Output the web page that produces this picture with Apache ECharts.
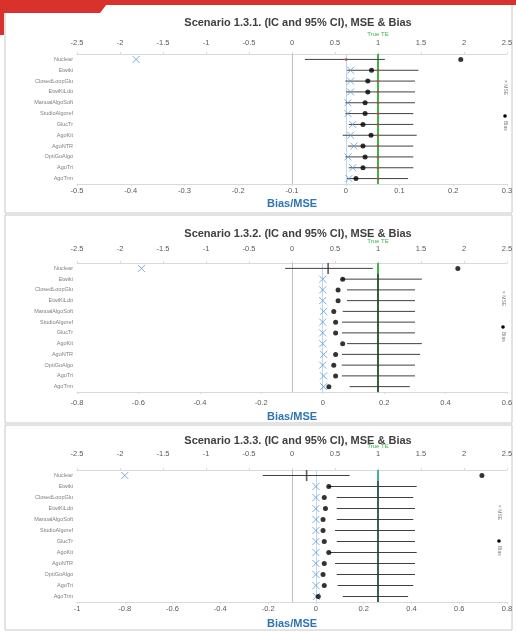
<!DOCTYPE html>
<html><head><meta charset="utf-8">
<script src="https://cdn.jsdelivr.net/npm/echarts@6/dist/echarts.min.js"></script>
<style>html,body{margin:0;padding:0;background:#fff}#c{width:516px;height:632px}</style>
</head><body><div id="c"></div>
<script>
const categories = ["Nuclear","Etwiki","ClosedLoopGlu","EtwiKiLdo","ManualAlgoSoft","StudioAlgoref","GlucTr","AgoKit","AgoNTR","OptiGoAlgo","AgoTri","AgoTrm"];
const titles = ["Scenario 1.3.1. (IC and 95% CI), MSE & Bias","Scenario 1.3.2. (IC and 95% CI), MSE & Bias","Scenario 1.3.3. (IC and 95% CI), MSE & Bias"];
const trueTE = [1, 1, 1];
// Panel 1
const p1Lower = [0.15,0.64,0.62,0.63,0.62,0.62,0.66,0.59,0.65,0.62,0.66,0.64];
const p1Upper = [1.08,1.47,1.43,1.43,1.43,1.41,1.41,1.45,1.41,1.41,1.41,1.35];
const p1Est   = [0.63,1.0,1.0,1.0,1.0,1.0,1.0,1.0,1.0,1.0,1.0,1.0];
const p1Bias  = [0.214,0.048,0.041,0.041,0.036,0.036,0.032,0.047,0.032,0.036,0.032,0.019];
const p1Mse   = [-0.39,0.009,0.009,0.009,0.004,0.004,0.013,0.009,0.015,0.004,0.013,0.006];
// Panel 2
const p2Lower = [-0.08,0.58,0.64,0.64,0.59,0.58,0.58,0.64,0.58,0.58,0.58,0.67];
const p2Upper = [0.94,1.51,1.43,1.43,1.43,1.43,1.43,1.51,1.49,1.43,1.43,1.37];
const p2Est   = [0.42,1.0,1.0,1.0,1.0,1.0,1.0,1.0,1.0,1.0,1.0,1.0];
const p2Bias  = [0.44,0.065,0.05,0.05,0.036,0.042,0.042,0.065,0.042,0.036,0.042,0.02];
const p2Mse   = [-0.59,0,0,0,0.003,0,0,0,0.003,0,0.003,0.003];
// Panel 3
const p3Lower = [-0.34,0.42,0.52,0.52,0.52,0.50,0.52,0.44,0.50,0.52,0.53,0.59];
const p3Upper = [0.67,1.45,1.41,1.43,1.41,1.43,1.43,1.45,1.43,1.43,1.41,1.35];
const p3Est   = [0.17,1.0,1.0,1.0,1.0,1.0,1.0,1.0,1.0,1.0,1.0,1.0];
const p3Bias  = [0.695,0.054,0.035,0.04,0.03,0.03,0.035,0.054,0.035,0.03,0.035,0.01];
const p3Mse   = [-0.80,0,0,0,0,0,0,0,0,0,0,0.002];
const topAxis = {min:-2.5, max:2.5, interval:0.5};
const bottomAxes = [{min:-0.5,max:0.3,interval:0.1},{min:-0.8,max:0.6,interval:0.2},{min:-1,max:0.8,interval:0.2}];

const FONT = "Liberation Sans";
const panels = [
  {top:54, h:130, lower:p1Lower, upper:p1Upper, est:p1Est, bias:p1Bias, mse:p1Mse, estColor:'#c0504d', estSym:'circle', estSize:3, teColor:'#3cb44b',
   topMargin:7, botMargin:3, nameGap:14, teDist:17},
  {top:263, h:129, lower:p2Lower, upper:p2Upper, est:p2Est, bias:p2Bias, mse:p2Mse, estColor:'#333', estSym:'rect', estSize:[1.6,11], teColor:'#3cb44b',
   topMargin:10, botMargin:7, nameGap:19, teDist:19},
  {top:470, h:132, lower:p3Lower, upper:p3Upper, est:p3Est, bias:p3Bias, mse:p3Mse, estColor:'#333', estSym:'rect', estSize:[1.6,11], teColor:'#3cb4a0',
   topMargin:12, botMargin:3, nameGap:16, teDist:21}
];
const titleY = [12, 223, 430];
const grids=[], xAxes=[], yAxes=[], series=[], titleOpts=[];
panels.forEach((p,i)=>{
  grids.push({left:77, right:9, top:p.top, height:p.h});
  titleOpts.push({text:titles[i], left:293, top:titleY[i], textAlign:'center',
    textStyle:{fontFamily:FONT, fontSize:11, fontWeight:'bold', color:'#404040'}});
  xAxes.push({type:'value', gridIndex:i, position:'top', min:topAxis.min, max:topAxis.max, interval:topAxis.interval,
    axisLine:{show:true, onZero:false, lineStyle:{color:'#d9d9d9'}}, axisTick:{show:true,length:2,lineStyle:{color:'#d9d9d9'}},
    splitLine:{show:false}, axisLabel:{fontFamily:FONT, fontSize:7.5, color:'#595959', margin:p.topMargin}});
  const b = bottomAxes[i];
  xAxes.push({type:'value', gridIndex:i, position:'bottom', min:b.min, max:b.max, interval:b.interval,
    name:'Bias/MSE', nameLocation:'middle', nameGap:p.nameGap,
    nameTextStyle:{fontFamily:FONT, fontSize:11, fontWeight:'bold', color:'#2e75b6'},
    axisLine:{show:true, onZero:false, lineStyle:{color:'#d9d9d9'}}, axisTick:{show:true,length:2,lineStyle:{color:'#d9d9d9'}},
    splitLine:{show:false}, axisLabel:{fontFamily:FONT, fontSize:7.5, color:'#595959', margin:p.botMargin}});
  yAxes.push({type:'category', gridIndex:i, data:categories, inverse:true,
    axisLine:{show:false}, axisTick:{show:false}, splitLine:{show:false},
    axisLabel:{fontFamily:FONT, fontSize:5.5, color:'#7f7f7f', margin:4}});
  const tx = 2*i, bx = 2*i+1;
  series.push({type:'custom', xAxisIndex:tx, yAxisIndex:i, z:3,
    data: categories.map((c,k)=>[k, p.lower[k], p.upper[k]]),
    encode:{x:[1,2], y:0},
    renderItem:(params, api)=>{
      const a = api.coord([api.value(1), api.value(0)]);
      const e = api.coord([api.value(2), api.value(0)]);
      return {type:'line', shape:{x1:a[0],y1:a[1],x2:e[0],y2:e[1]}, style:{stroke:'#404040', lineWidth:1}};
    }});
  series.push({type:'scatter', xAxisIndex:tx, yAxisIndex:i, z:4,
    symbol:p.estSym, symbolSize:p.estSize, itemStyle:{color:p.estColor},
    data: categories.map((c,k)=>[p.est[k], c]),
    markLine:{silent:true, symbol:'none', z:2,
      data:[
        {xAxis:trueTE[i], lineStyle:{color:p.teColor, width:2, type:'solid'},
          label:{show:true, position:'start', formatter:'True TE', fontFamily:FONT, fontSize:6, color:'#3cb44b', distance:p.teDist}},
        {xAxis:0, lineStyle:{color:'#bfbfbf', width:1, type:'solid'}, label:{show:false}}
      ]}});
  series.push({type:'scatter', xAxisIndex:bx, yAxisIndex:i, z:5, name:'MSE',
    symbol:'path://M0 0L10 10M10 0L0 10', symbolSize:7,
    itemStyle:{color:'transparent', borderColor:'#5b9bd5', borderWidth:1},
    data: categories.map((c,k)=>[p.mse[k], c]),
    markLine:{silent:true, symbol:'none', z:1,
      data:[{xAxis:0, lineStyle:{color:'#bdd7ee', width:1, type:'solid'}, label:{show:false}}]}});
  series.push({type:'scatter', xAxisIndex:bx, yAxisIndex:i, z:6, name:'Bias',
    symbol:'circle', symbolSize:5, itemStyle:{color:'#000'},
    data: categories.map((c,k)=>[p.bias[k], c])});
});

const legendPos = [{x:505, y:80},{x:503, y:291},{x:499, y:505}];
const graphics = [];
[[5,4,507,209],[5,215,507,208],[5,425,507,205]].forEach(r=>{
  graphics.push({type:'rect', shape:{x:r[0],y:r[1],width:r[2],height:r[3]}, style:{fill:'#fff', stroke:'#c8c8c8', lineWidth:1}, z:-10});
});
legendPos.forEach(lp=>{
  graphics.push({type:'text', x:lp.x+3, y:lp.y, rotation:-Math.PI/2, style:{text:'× MSE', font:'5px '+FONT, fill:'#7f7f7f'}, z:10});
  graphics.push({type:'circle', shape:{cx:lp.x, cy:lp.y+36, r:1.8}, style:{fill:'#000'}, z:10});
  graphics.push({type:'text', x:lp.x+3, y:lp.y+41, rotation:-Math.PI/2, style:{text:'Bias', font:'5px '+FONT, fill:'#7f7f7f'}, z:10});
});
graphics.push({type:'rect', shape:{x:0,y:0,width:516,height:5}, style:{fill:'#d9312b'}, z:20});
graphics.push({type:'polygon', shape:{points:[[0,0],[110,0],[100,13],[0,13]]}, style:{fill:'#d9312b'}, z:20});
graphics.push({type:'rect', shape:{x:0,y:0,width:4,height:35}, style:{fill:'#d9312b'}, z:20});

const chart = echarts.init(document.getElementById('c'), null, {renderer:'canvas'});
chart.setOption({
  backgroundColor:'#fff', animation:false,
  title:titleOpts, grid:grids, xAxis:xAxes, yAxis:yAxes, series:series, graphic:graphics
});
</script></body></html>
